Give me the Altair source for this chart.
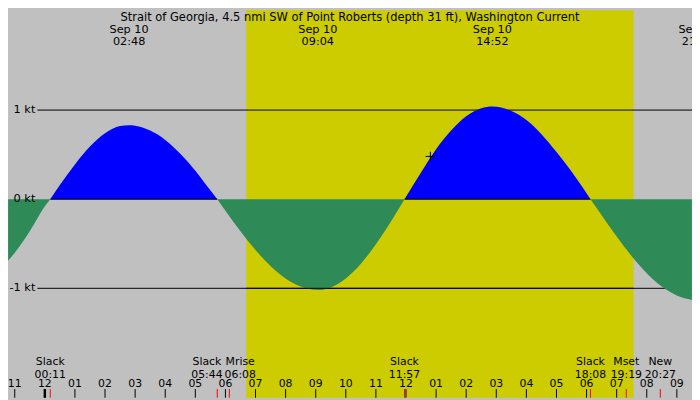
import altair as alt
import pandas as pd

# tidal current, hours after midnight Sep 10 -> knots (flood +, ebb -)
hours = [-1.22, -1.0, -0.5, 0.0, 0.18, 0.5, 1.0, 1.5, 2.0, 2.5, 2.8, 3.0, 3.5,
         4.0, 4.5, 5.0, 5.5, 5.73, 6.0, 6.5, 7.0, 7.5, 8.0, 8.5, 9.07, 9.5,
         10.0, 10.5, 11.0, 11.5, 11.95, 12.5, 13.0, 13.5, 14.0, 14.5, 14.87,
         15.5, 16.0, 16.5, 17.0, 17.5, 18.13, 18.5, 19.0, 19.5, 20.0, 20.5,
         21.0, 21.5]
speeds = [-0.69, -0.60, -0.36, -0.08, 0.0, 0.16, 0.39, 0.59, 0.74, 0.82, 0.83,
          0.825, 0.77, 0.665, 0.51, 0.32, 0.10, 0.0, -0.13, -0.36, -0.57,
          -0.75, -0.89, -0.98, -1.02, -0.99, -0.89, -0.725, -0.505, -0.25, 0.0,
          0.30, 0.56, 0.77, 0.93, 1.02, 1.04, 0.99, 0.89, 0.73, 0.53, 0.31, 0.0,
          -0.18, -0.42, -0.64, -0.83, -0.98, -1.08, -1.13]

title_text = "Strait of Georgia, 4.5 nmi SW of Point Roberts (depth 31 ft), Washington Current"

# max current events (top labels)
peak_hours = [2.8, 9.07, 14.87, 21.7]
peak_dates = ["Sep 10", "Sep 10", "Sep 10", "Sep 10"]
peak_clock = ["02:48", "09:04", "14:52", "21:42"]

# events along the bottom
event_hours = [0.18, 5.73, 6.13, 11.95, 18.13, 19.32, 20.45]
event_names = ["Slack", "Slack", "Mrise", "Slack", "Slack", "Mset", "New"]
event_clock = ["00:11", "05:44", "06:08", "11:57", "18:08", "19:19", "20:27"]

# flood periods (slack to slack)
flood_start = [0.18, 11.95]
flood_end = [5.73, 18.13]

sunrise = [6.69]
sunset = [19.56]

tick_hours = list(range(-1, 22))
tick_labels = ["11", "12", "01", "02", "03", "04", "05", "06", "07", "08", "09",
               "10", "11", "12", "01", "02", "03", "04", "05", "06", "07", "08", "09"]

kt_levels = [1, 0, -1]
kt_labels = ["1 kt", "0 kt", "-1 kt"]

marker_hour = [12.81]
marker_kt = [0.48]

FONT = "DejaVu Sans"
W, H = 692, 392   # page is 700x400 with an 8px margin


def px(v):
    return v * W / 700


def py(v):
    return v * H / 400


xs = alt.Scale(domain=[-1.224, 21.503], nice=False, zero=False)
ys = alt.Scale(domain=[-2.228, 2.12], nice=False, zero=False)


def X(f):
    return alt.X(f, type="quantitative", scale=xs, axis=None)


def Y(f):
    return alt.Y(f, type="quantitative", scale=ys, axis=None, stack=None)


# split the curve into flood / ebb pieces; slack points close both neighbours
rows = []
seg, sign = 0, None
for h, v in zip(hours, speeds):
    if v == 0:
        rows.append({"h": h, "kt": v, "seg": seg, "dir": sign})
        seg += 1
        sign = None
        continue
    s = "flood" if v > 0 else "ebb"
    if sign is None:
        sign = s
        if rows and rows[-1]["kt"] == 0:
            rows.append({"h": rows[-1]["h"], "kt": 0.0, "seg": seg, "dir": s})
    rows.append({"h": h, "kt": v, "seg": seg, "dir": s})
curve = pd.DataFrame(rows)
curve["zero"] = 0.0

peaks = pd.DataFrame({"h": peak_hours, "date": peak_dates, "clock": peak_clock})
events = pd.DataFrame({"h": event_hours, "name": event_names, "clock": event_clock})
floods = pd.DataFrame({"a": flood_start, "b": flood_end})
day = pd.DataFrame({"a": sunrise, "b": sunset})
ticks = pd.DataFrame({"h": tick_hours, "lab": tick_labels})
levels = pd.DataFrame({"kt": kt_levels, "lab": kt_labels})
marker = pd.DataFrame({"h": marker_hour, "kt": marker_kt})

daylight = alt.Chart(day).mark_rect(color="#CCCC00").encode(
    x=X("a"), x2="b", y=alt.value(0), y2=alt.value(H))

flood_area = alt.Chart(curve).transform_filter("datum.dir == 'flood'").mark_area(
    color="#0000FF", interpolate="monotone").encode(
    x=X("h"), y=Y("kt"), y2="zero:Q", detail="seg:N")
ebb_area = alt.Chart(curve).transform_filter("datum.dir == 'ebb'").mark_area(
    color="#2E8B57", interpolate="monotone").encode(
    x=X("h"), y=Y("kt"), y2="zero:Q", detail="seg:N")

level_rules = alt.Chart(levels).transform_filter("datum.kt != 0").mark_rule(
    color="black", strokeWidth=1).encode(
    x=alt.value(px(30)), x2=alt.value(W), y=Y("kt"))
zero_rules = alt.Chart(floods).transform_calculate(zero="0").mark_rule(
    color="black", strokeWidth=1).encode(x=X("a"), x2="b", y=Y("zero"))
ebb_rule_day = alt.Chart(day).transform_calculate(m1="-1").mark_rule(
    color="black", strokeWidth=1).encode(x=X("a"), x2="b", y=Y("m1"))
level_text = alt.Chart(levels).mark_text(
    align="right", baseline="middle", font=FONT, fontSize=11.5, color="black").encode(
    x=alt.value(px(28)), y=Y("kt"), text="lab:N")

cross = alt.Chart(marker).mark_point(
    shape="M-1,0H1M0,-1V1", filled=False, color="black", strokeWidth=1,
    size=90, opacity=1).encode(x=X("h"), y=Y("kt"))

title = alt.Chart(pd.DataFrame({"t": [title_text]})).mark_text(
    font=FONT, fontSize=11.6, color="black", baseline="alphabetic").encode(
    x=alt.value(px(350)), y=alt.value(py(11)), text="t:N")
peak_date = alt.Chart(peaks).mark_text(
    font=FONT, fontSize=11.4, color="black", baseline="alphabetic").encode(
    x=X("h"), y=alt.value(py(23)), text="date:N")
peak_time = alt.Chart(peaks).mark_text(
    font=FONT, fontSize=11.4, color="black", baseline="alphabetic").encode(
    x=X("h"), y=alt.value(py(35.5)), text="clock:N")

ev = alt.Chart(events)
ev_layers = []
for cond, dx in [("datum.clock != '05:44' && datum.clock != '06:08'", 0),
                 ("datum.clock == '05:44'", -10.5),
                 ("datum.clock == '06:08'", 11)]:
    for field, yy in [("name", 366), ("clock", 379.5)]:
        ev_layers.append(ev.transform_filter(cond).mark_text(
            font=FONT, fontSize=11, color="black", baseline="alphabetic", dx=dx).encode(
            x=X("h"), y=alt.value(py(yy)), text=f"{field}:N"))

event_ticks = ev.mark_rule(color="red", strokeWidth=1).encode(
    x=X("h"), y=alt.value(py(391)), y2=alt.value(H))
hour_ticks = alt.Chart(ticks).mark_rule(color="black", strokeWidth=1).encode(
    x=X("h"), y=alt.value(py(391)), y2=alt.value(H))
midnight_tick = alt.Chart(ticks).transform_filter("datum.h == 0").mark_rule(
    color="black", strokeWidth=2.5).encode(
    x=X("h"), y=alt.value(py(391)), y2=alt.value(H))
hour_text = alt.Chart(ticks).mark_text(
    font=FONT, fontSize=11, color="black", baseline="alphabetic").encode(
    x=X("h"), y=alt.value(py(389)), text="lab:N")

chart = alt.layer(
    daylight, level_rules, flood_area, zero_rules, ebb_area, ebb_rule_day,
    level_text, cross, title, peak_date, peak_time, *ev_layers,
    hour_ticks, midnight_tick, event_ticks, hour_text
).properties(
    width=W, height=H, autosize="none", padding=0,
    background="#C0C0C0",
).configure_view(fill="#C0C0C0", strokeWidth=0)

chart.save("out.html", embed_options={"renderer": "svg", "actions": False})
